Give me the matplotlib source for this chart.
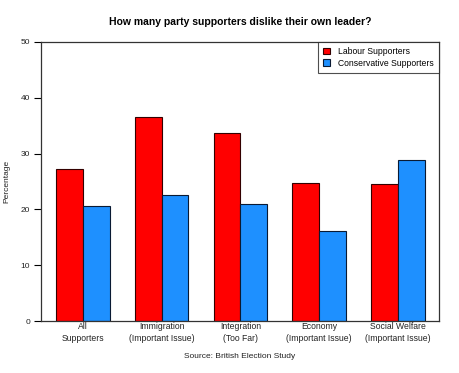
import matplotlib
matplotlib.use("Agg")
import matplotlib.pyplot as plt
import numpy as np

plt.rcParams['font.family'] = ['Liberation Sans', 'DejaVu Sans']

categories = ["All\nSupporters", "Immigration\n(Important Issue)", "Integration\n(Too Far)",
              "Economy\n(Important Issue)", "Social Welfare\n(Important Issue)"]
labour = [27.2, 36.6, 33.7, 24.7, 24.6]
conservative = [20.6, 22.6, 21.0, 16.1, 28.9]
series_names = ["Labour Supporters", "Conservative Supporters"]
yticks = [0, 10, 20, 30, 40, 50]

fig = plt.figure(figsize=(4.6, 3.73), dpi=100)
ax = fig.add_axes([41/460, 1 - 321/373, 398/460, 279/373])

x = np.arange(len(categories))
w = 0.34
ax.bar(x - w/2, labour, w, color='#FF0000', edgecolor='#330000', linewidth=0.8, label=series_names[0])
ax.bar(x + w/2, conservative, w, color='#1E90FF', edgecolor='#0a1a33', linewidth=0.8, label=series_names[1])

ax.set_xlim(-0.53, 4.52)
ax.set_ylim(0, 50)
ax.set_yticks(yticks)
ax.set_yticklabels([str(t) for t in yticks], fontsize=6, color='#222222')
ax.set_xticks(x)
ax.set_xticklabels(categories, fontsize=6.2, color='#222222', linespacing=1.4)
ax.tick_params(axis='x', length=0, pad=1)
ax.tick_params(axis='y', length=5, width=0.8, pad=3)
for s in ax.spines.values():
    s.set_linewidth(0.9)
    s.set_color('#333333')

ax.set_ylabel("Percentage", fontsize=6, color='#222222', labelpad=7)
fig.text(0.5 * (41 + 439) / 460, 1 - 22/373, "How many party supporters dislike their own leader?",
         ha='center', va='center', fontsize=7.5, fontweight='bold')
fig.text(0.5 * (41 + 439) / 460, 1 - 357/373, "Source: British Election Study",
         ha='center', va='center', fontsize=6, color='#222222')

leg = ax.legend(loc='upper right', fontsize=6.2, frameon=True, fancybox=False,
                edgecolor='#222222', handlelength=0.8, handleheight=0.8,
                borderaxespad=0, handletextpad=0.9, labelspacing=0.3, borderpad=0.6)
leg.get_frame().set_linewidth(0.8)

fig.savefig("out.png", dpi=100)
